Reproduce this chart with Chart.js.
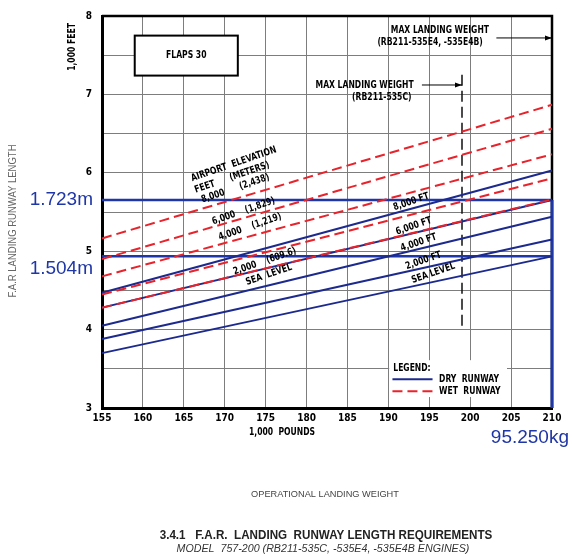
<!DOCTYPE html>
<html>
<head>
<meta charset="utf-8">
<title>F.A.R. Landing Runway Length</title>
<script src="https://cdn.jsdelivr.net/npm/chart.js@4.4.0/dist/chart.umd.min.js"></script>
<style>
  html, body { margin: 0; background: #fff; }
  canvas { display: block; }
</style>
</head>
<body>
<canvas id="runwayChart" width="572" height="558"></canvas>
<script>
// landing weight range, 1,000 lb
var weights = [155, 210];
var weightTicks = [155, 160, 165, 170, 175, 180, 185, 190, 195, 200, 205, 210];
var lengthTicks = [3, 4, 5, 6, 7, 8];

// runway length (1,000 ft) at 155 and 210, sea level up to 8,000 ft
var elevations = ['SEA LEVEL', '2,000', '4,000', '6,000', '8,000'];
var dryAt155 = [3.70, 3.88, 4.05, 4.28, 4.47];
var dryAt210 = [4.934, 5.15, 5.44, 5.653, 6.03];
var wetAt155 = [4.279, 4.448, 4.679, 4.90, 5.163];
var wetAt210 = [5.66, 5.929, 6.236, 6.561, 6.867];

// marked lengths (1,000 ft) and their metric labels
var markedLengths = [5.653, 4.934];
var markedLabels = ['1.723m', '1.504m'];
var maxWeight535C = 199;

var DRY = '#1c2a8e';
var WET = '#e8232b';
var MARK = '#1f36a6';
var CAD_FAMILY = '"DejaVu Sans Condensed", "Liberation Sans Narrow", "Liberation Sans", sans-serif';
var CAD = 'bold 10px ' + CAD_FAMILY;

function runwayLine(label, y1, y2, color, dash) {
    return {
        label: label,
        data: [{ x: weights[0], y: y1 }, { x: weights[1], y: y2 }],
        borderColor: color,
        borderWidth: 2,
        borderDash: dash,
        pointRadius: 0,
        fill: false,
        clip: false
    };
}

var datasets = [];
for (var i = 0; i < elevations.length; i++) {
    datasets.push(runwayLine('dry ' + elevations[i], dryAt155[i], dryAt210[i], DRY, []));
    datasets.push(runwayLine('wet ' + elevations[i], wetAt155[i], wetAt210[i], WET, [10, 5]));
}
for (var j = 0; j < markedLengths.length; j++) {
    var m = runwayLine(markedLabels[j], markedLengths[j], markedLengths[j], MARK, []);
    m.borderWidth = 2.5;
    datasets.push(m);
}
// weight marker up the right edge
datasets.push({
    label: '95.250kg',
    data: [{ x: weights[1], y: lengthTicks[0] }, { x: weights[1], y: markedLengths[0] }],
    borderColor: MARK, borderWidth: 3, pointRadius: 0, clip: false
});
// max landing weight, RB211-535C
datasets.push({
    label: 'max landing weight 535C',
    data: [{ x: maxWeight535C, y: 4.05 }, { x: maxWeight535C, y: 7.29 }],
    borderColor: '#111', borderWidth: 1.5, borderDash: [11, 5], pointRadius: 0
});

// squeeze < 1 narrows the lettering like the drafting font
function text(ctx, str, x, y, font, color, align, angle, squeeze) {
    ctx.save();
    ctx.translate(x, y);
    if (angle) ctx.rotate(angle * Math.PI / 180);
    if (squeeze) ctx.scale(squeeze, 1);
    ctx.font = font;
    ctx.fillStyle = color || '#000';
    ctx.textAlign = align || 'center';
    ctx.textBaseline = 'middle';
    ctx.fillText(str, 0, 0);
    ctx.restore();
}

function cad(ctx, str, x, y, align, angle) {
    text(ctx, str, x, y, CAD, '#000', align, angle, 0.85);
}

function arrow(ctx, x1, x2, y) {
    ctx.save();
    ctx.strokeStyle = '#000';
    ctx.fillStyle = '#000';
    ctx.lineWidth = 1;
    ctx.beginPath();
    ctx.moveTo(x1, y);
    ctx.lineTo(x2, y);
    ctx.stroke();
    ctx.beginPath();
    ctx.moveTo(x2, y);
    ctx.lineTo(x2 - 7, y - 2.5);
    ctx.lineTo(x2 - 7, y + 2.5);
    ctx.closePath();
    ctx.fill();
    ctx.restore();
}

var annotate = {
    id: 'annotate',
    beforeDatasetsDraw: function (chart) {
        var ctx = chart.ctx, a = chart.chartArea;
        ctx.save();
        ctx.strokeStyle = '#000';
        ctx.lineWidth = 2.5;
        ctx.beginPath();
        ctx.moveTo(a.left, a.top);
        ctx.lineTo(a.right, a.top);
        ctx.lineTo(a.right, a.bottom);
        ctx.stroke();
        ctx.restore();
    },
    afterDraw: function (chart) {
        var ctx = chart.ctx;
        var sx = chart.scales.x, sy = chart.scales.y;
        var px = function (v) { return sx.getPixelForValue(v); };
        var py = function (v) { return sy.getPixelForValue(v); };

        // FLAPS 30 box
        ctx.save();
        ctx.fillStyle = '#fff';
        ctx.strokeStyle = '#000';
        ctx.lineWidth = 2;
        ctx.fillRect(px(159.0), py(7.75), px(171.6) - px(159.0), py(7.24) - py(7.75));
        ctx.strokeRect(px(159.0), py(7.75), px(171.6) - px(159.0), py(7.24) - py(7.75));
        ctx.restore();
        cad(ctx, 'FLAPS 30', px(165.3), py(7.495));

        // max landing weight callouts
        cad(ctx, 'MAX LANDING WEIGHT', px(196.3), py(7.81));
        cad(ctx, '(RB211-535E4, -535E4B)', px(195.1), py(7.66));
        arrow(ctx, px(203.2), px(210), py(7.72));
        cad(ctx, 'MAX LANDING WEIGHT', px(187.1), py(7.12));
        cad(ctx, '(RB211-535C)', px(189.2), py(6.965));
        arrow(ctx, px(194.1), px(maxWeight535C), py(7.12));

        // elevation labels, wet runway side
        var tilt = -19;
        cad(ctx, 'AIRPORT  ELEVATION', px(171.1), py(6.11), 'center', tilt);
        cad(ctx, 'FEET      (METERS)', px(170.9), py(5.94), 'center', tilt);
        cad(ctx, '8,000      (2,438)', px(171.3), py(5.80), 'center', tilt);
        cad(ctx, '6,000    (1,829)', px(172.3), py(5.51), 'center', tilt);
        cad(ctx, '4,000    (1,219)', px(173.1), py(5.31), 'center', tilt);
        cad(ctx, '2,000    (609.6)', px(174.9), py(4.87), 'center', tilt);
        cad(ctx, 'SEA  LEVEL', px(175.4), py(4.70), 'center', tilt);

        // elevation labels, dry runway side
        cad(ctx, '8,000 FT', px(192.8), py(5.63), 'center', tilt);
        cad(ctx, '6,000 FT', px(193.1), py(5.32), 'center', tilt);
        cad(ctx, '4,000 FT', px(193.7), py(5.11), 'center', tilt);
        cad(ctx, '2,000 FT', px(194.3), py(4.88), 'center', tilt);
        cad(ctx, 'SEA LEVEL', px(195.5), py(4.72), 'center', tilt);

        // legend
        ctx.save();
        ctx.fillStyle = '#fff';
        ctx.fillRect(px(190.1), py(3.61), px(204.5) - px(190.1), py(3.14) - py(3.61));
        ctx.lineWidth = 2;
        ctx.strokeStyle = DRY;
        ctx.beginPath();
        ctx.moveTo(px(190.5), py(3.366));
        ctx.lineTo(px(195.4), py(3.366));
        ctx.stroke();
        ctx.strokeStyle = WET;
        ctx.setLineDash([10, 5]);
        ctx.beginPath();
        ctx.moveTo(px(190.5), py(3.215));
        ctx.lineTo(px(195.4), py(3.215));
        ctx.stroke();
        ctx.restore();
        cad(ctx, 'LEGEND:', px(190.6), py(3.505), 'left');
        cad(ctx, 'DRY  RUNWAY', px(196.2), py(3.366), 'left');
        cad(ctx, 'WET  RUNWAY', px(196.2), py(3.215), 'left');

        // axis titles
        cad(ctx, '1,000 FEET', 72, 47, 'center', -90);
        text(ctx, 'F.A.R LANDING RUNWAY LENGTH', 13, 221, '10px "Liberation Sans", sans-serif', '#666', 'center', -90, 0.95);
        cad(ctx, '1,000  POUNDS', 282, 432);
        text(ctx, 'OPERATIONAL LANDING WEIGHT', 325, 494, '9.5px "Liberation Sans", sans-serif', '#444', 'center', 0, 0.97);

        // metric values
        var metric = '19px "Liberation Sans", Arial, sans-serif';
        text(ctx, markedLabels[0], 93, py(markedLengths[0]), metric, MARK, 'right');
        text(ctx, markedLabels[1], 93, py(markedLengths[1]) + 12, metric, MARK, 'right');
        text(ctx, '95.250kg', 569, 438, metric, MARK, 'right');

        // caption
        text(ctx, '3.4.1   F.A.R.  LANDING  RUNWAY LENGTH REQUIREMENTS', 326, 536,
            'bold 12px "Liberation Sans", Arial, sans-serif', '#222', 'center', 0, 0.97);
        text(ctx, 'MODEL  757-200 (RB211-535C, -535E4, -535E4B ENGINES)', 323, 549,
            'italic 11px "Liberation Sans", Arial, sans-serif', '#333', 'center', 0, 0.97);
    }
};

var tickFont = { family: CAD_FAMILY, size: 10, weight: 'bold' };

new Chart('runwayChart', {
    type: 'line',
    data: { datasets: datasets },
    options: {
        responsive: false,
        animation: false,
        devicePixelRatio: 1,
        layout: { padding: { top: 12, right: 20, left: 0, bottom: 0 } },
        plugins: {
            legend: { display: false },
            tooltip: { enabled: false }
        },
        scales: {
            x: {
                type: 'linear',
                min: weights[0],
                max: weights[1],
                afterFit: function (scale) { scale.height = 150; },
                afterBuildTicks: function (scale) {
                    scale.ticks = weightTicks.map(function (v) { return { value: v }; });
                },
                grid: { color: '#7d7d7d', lineWidth: 1, drawTicks: false },
                border: { color: '#000', width: 3 },
                ticks: { autoSkip: false, maxRotation: 0, padding: 4, color: '#000', font: tickFont }
            },
            y: {
                type: 'linear',
                min: lengthTicks[0],
                max: lengthTicks[lengthTicks.length - 1],
                afterFit: function (scale) { scale.width = 102; },
                grid: { color: '#7d7d7d', lineWidth: 1, drawTicks: false },
                border: { color: '#000', width: 3 },
                ticks: {
                    stepSize: 0.5,
                    padding: 10,
                    color: '#000',
                    font: tickFont,
                    callback: function (v) { return lengthTicks.indexOf(v) >= 0 ? v : ''; }
                }
            }
        }
    },
    plugins: [annotate]
});
</script>
</body>
</html>
